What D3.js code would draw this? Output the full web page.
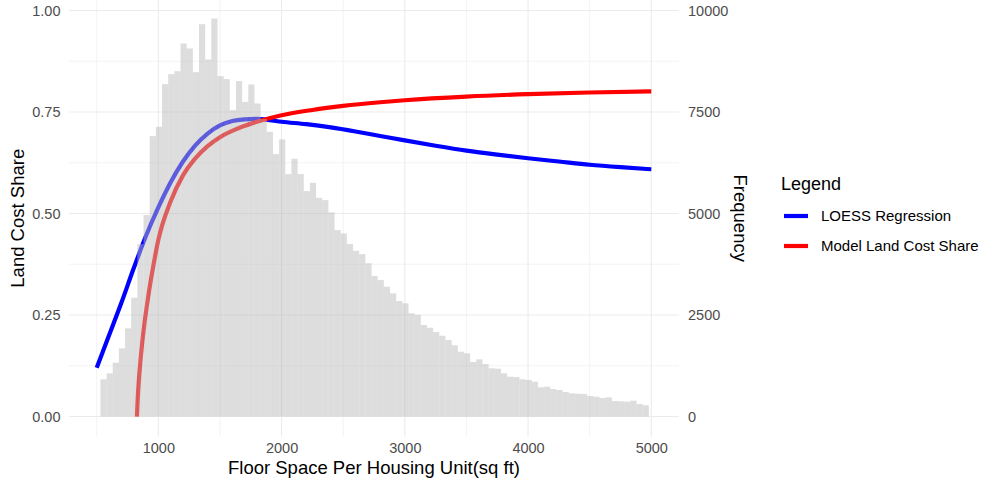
<!DOCTYPE html>
<html>
<head>
<meta charset="utf-8">
<script src="https://cdn.jsdelivr.net/npm/d3@7"></script>
<style>
	body { margin: 0; background: #fff; }
	text { font-family: "Liberation Sans", Arial, sans-serif; }
</style>
</head>
<body>
<div id="chart"></div>
<script>

// histogram of floor space, 50 sq ft bins starting at 530
var binStart = 530
var binWidth = 50
var counts = [
	916, 1064, 1325, 1679, 2171, 2925, 4247, 4961, 6906, 7135,
	8186, 8432, 8506, 9188, 9065, 8481, 9663, 8794, 9803, 8383,
	8309, 7546, 8260, 7750, 8178, 7710, 7329, 7011, 6462, 6824,
	5970, 6347, 5970, 5551, 5756, 5386, 5330, 5027, 4591, 4510,
	4247, 4082, 4000, 3772, 3459, 3360, 3195, 3033, 2843, 2787,
	2541, 2499, 2253, 2186, 2080, 1989, 1883, 1753, 1595, 1556,
	1342, 1408, 1292, 1187, 1177, 1064, 980, 972, 916, 899,
	857, 719, 734, 677, 652, 603, 571, 561, 554, 505,
	487, 455, 473, 382, 374, 364, 389, 308, 276
]

// LOESS regression of land cost share
var loessX = [500, 600, 700, 800, 900, 1000, 1100, 1200, 1300, 1400, 1500, 1600, 1700, 1800, 1900, 2000,
	2200, 2400, 2600, 2800, 3000, 3250, 3500, 3750, 4000, 4250, 4500, 4750, 5000]
var loessY = [0.12, 0.20, 0.28, 0.365, 0.445, 0.515, 0.577, 0.628, 0.668, 0.697, 0.717, 0.728, 0.732, 0.733, 0.73, 0.726,
	0.72, 0.712, 0.702, 0.691, 0.68, 0.667, 0.655, 0.645, 0.636, 0.628, 0.62, 0.614, 0.609]

// model land cost share
var modelX = [826, 832, 840, 850, 865, 890, 920, 950, 1000, 1100, 1200, 1300, 1400, 1500, 1650, 1800,
	2000, 2250, 2500, 2800, 3000, 3500, 4000, 4500, 5000]
var modelY = [0, 0.04, 0.08, 0.12, 0.17, 0.235, 0.3, 0.355, 0.435, 0.53, 0.594, 0.636, 0.666, 0.688, 0.71, 0.726,
	0.742, 0.755, 0.765, 0.774, 0.779, 0.788, 0.794, 0.798, 0.801]

var xTicks = [1000, 2000, 3000, 4000, 5000]
var xMinor = [500, 1500, 2500, 3500, 4500]
var yTicks = [0, 0.25, 0.5, 0.75, 1]
var yMinor = [0.125, 0.375, 0.625, 0.875]
var freqTicks = [0, 2500, 5000, 7500, 10000]

var seriesNames = ["LOESS Regression", "Model Land Cost Share"]
var seriesColors = ["#0000ff", "#ff0000"]

var width = 985, height = 486
var panel = { left: 69, right: 679, top: 0, bottom: 436.5 }

var svg = d3.select("#chart").append("svg")
	.attr("width", width)
	.attr("height", height)

var x = d3.scaleLinear().domain([275, 5225]).range([panel.left, panel.right])
var y = d3.scaleLinear().domain([0, 1]).range([416.5, 10.5])
var yFreq = d3.scaleLinear().domain([0, 10000]).range([416.5, 10.5])

var grid = svg.append("g")

function vGrid(values, w) {
	grid.selectAll(null)
		.data(values)
		.enter().append("line")
			.attr("x1", function (d) { return x(d) })
			.attr("x2", function (d) { return x(d) })
			.attr("y1", panel.top)
			.attr("y2", panel.bottom)
			.style("stroke", "#ebebeb")
			.style("stroke-width", w)
}

function hGrid(values, w) {
	grid.selectAll(null)
		.data(values)
		.enter().append("line")
			.attr("x1", panel.left)
			.attr("x2", panel.right)
			.attr("y1", function (d) { return y(d) })
			.attr("y2", function (d) { return y(d) })
			.style("stroke", "#ebebeb")
			.style("stroke-width", w)
}

vGrid(xMinor, 0.6)
hGrid(yMinor, 0.6)
vGrid(xTicks, 1.1)
hGrid(yTicks, 1.1)

var line = d3.line()
	.x(function (d) { return x(d[0]) })
	.y(function (d) { return y(d[1]) })
	.curve(d3.curveMonotoneX)

var series = [d3.zip(loessX, loessY), d3.zip(modelX, modelY)]

svg.selectAll(".series")
	.data(series)
	.enter().append("path")
		.attr("class", "series")
		.attr("d", line)
		.style("fill", "none")
		.style("stroke", function (d, i) { return seriesColors[i] })
		.style("stroke-width", 4.2)

// histogram goes on top, semi transparent
svg.append("g").selectAll("rect")
	.data(counts)
	.enter().append("rect")
		.attr("x", function (d, i) { return x(binStart + i * binWidth) })
		.attr("width", function (d, i) { return x(binStart + (i + 1) * binWidth) - x(binStart + i * binWidth) })
		.attr("y", function (d) { return yFreq(d) })
		.attr("height", function (d) { return yFreq(0) - yFreq(d) })
		.style("fill", "#bbbbbb")
		.style("fill-opacity", 0.5)

var xAxis = svg.append("g")
	.attr("transform", "translate(0," + panel.bottom + ")")
	.call(d3.axisBottom(x).tickValues(xTicks).tickFormat(d3.format("d")).tickSize(0).tickPadding(6.5))
xAxis.select(".domain").remove()
xAxis.selectAll("text").style("font-size", "14.5px").style("fill", "#4d4d4d")

var yAxis = svg.append("g")
	.attr("transform", "translate(" + panel.left + ",0)")
	.call(d3.axisLeft(y).tickValues(yTicks).tickFormat(d3.format(".2f")).tickSize(0).tickPadding(8.5))
yAxis.select(".domain").remove()
yAxis.selectAll("text").style("font-size", "14.5px").style("fill", "#4d4d4d")

var yAxisRight = svg.append("g")
	.attr("transform", "translate(" + panel.right + ",0)")
	.call(d3.axisRight(yFreq).tickValues(freqTicks).tickFormat(d3.format("d")).tickSize(0).tickPadding(9))
yAxisRight.select(".domain").remove()
yAxisRight.selectAll("text").style("font-size", "14.5px").style("fill", "#4d4d4d")

svg.append("text")
	.attr("x", (panel.left + panel.right) / 2)
	.attr("y", 474)
	.attr("text-anchor", "middle")
	.style("font-size", "18.5px")
	.text("Floor Space Per Housing Unit(sq ft)")

svg.append("text")
	.attr("transform", "translate(24," + (panel.top + panel.bottom) / 2 + ") rotate(-90)")
	.attr("text-anchor", "middle")
	.style("font-size", "18.5px")
	.text("Land Cost Share")

svg.append("text")
	.attr("transform", "translate(734," + (panel.top + panel.bottom) / 2 + ") rotate(90)")
	.attr("text-anchor", "middle")
	.style("font-size", "18.5px")
	.text("Frequency")

var legend = svg.append("g").attr("transform", "translate(781,0)")

legend.append("text")
	.attr("x", 0)
	.attr("y", 190)
	.style("font-size", "18px")
	.text("Legend")

var keys = legend.selectAll(".key")
	.data(seriesNames)
	.enter().append("g")
		.attr("class", "key")
		.attr("transform", function (d, i) { return "translate(0," + (216 + i * 30) + ")" })

keys.append("line")
	.attr("x1", 3)
	.attr("x2", 27)
	.style("stroke", function (d, i) { return seriesColors[i] })
	.style("stroke-width", 4.2)

keys.append("text")
	.attr("x", 40)
	.attr("dy", "0.35em")
	.style("font-size", "15px")
	.text(function (d) { return d })

</script>
</body>
</html>
